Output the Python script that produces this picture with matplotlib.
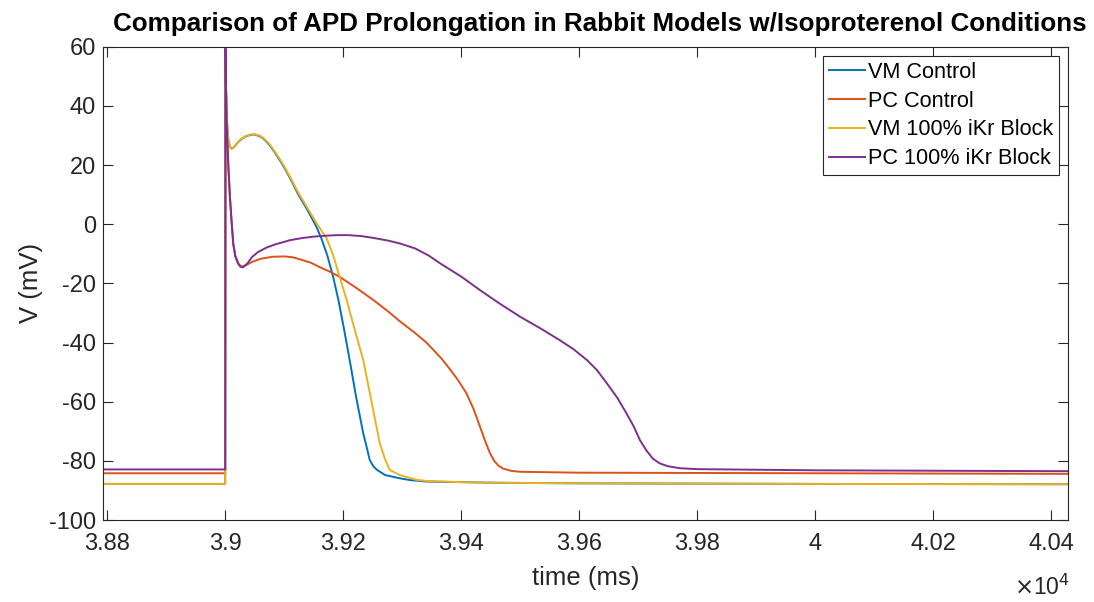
import matplotlib
matplotlib.use("Agg")
import matplotlib.pyplot as plt
from matplotlib.ticker import FixedLocator

plt.rcParams['font.family'] = ['Liberation Sans', 'DejaVu Sans']
plt.rcParams['axes.unicode_minus'] = False

# ---- data (time in ms, voltage in mV) ----
t_vm_ctrl = [38793, 39000, 39000.5, 39001.5, 39003, 39005, 39008, 39011, 39014, 39020, 39027,
             39035, 39043, 39050, 39058, 39065, 39075, 39084, 39092, 39100, 39112, 39124,
             39140, 39155, 39163, 39173, 39183, 39192, 39201, 39211, 39222, 39234, 39240,
             39245, 39251, 39257, 39271, 39296, 39313, 39341, 39400, 39454, 39600, 40000, 40429]
v_vm_ctrl = [-87.8, -87.8, 58.0, 45.0, 35.0, 29.0, 26.2, 25.5, 25.8, 27.3, 28.7,
             29.7, 30.2, 30.3, 29.8, 28.9, 26.8, 24.3, 21.8, 19.2, 14.8, 10.0,
             4.6, -1.0, -4.8, -10.5, -17.8, -25.7, -35.0, -45.9, -58.5, -70.7, -75.5,
             -79.7, -81.8, -83.0, -84.8, -85.9, -86.5, -87.0, -87.2, -87.4, -87.6, -87.8, -87.9]

t_pc_ctrl = [38793, 39000, 39000.5, 39001, 39002, 39003, 39005.5, 39008, 39011, 39013.6, 39017,
             39022, 39026, 39030, 39036, 39045, 39060, 39080, 39101, 39115, 39127, 39145,
             39160, 39177, 39194, 39222, 39251, 39275, 39296, 39320, 39340, 39353, 39367,
             39380, 39395, 39409, 39421, 39432, 39441, 39449, 39456, 39463, 39471, 39485,
             39500, 39600, 40000, 40429]
v_pc_ctrl = [-84.2, -84.2, 58.0, 50.0, 40.0, 31.8, 19.0, 9.3, 0.5, -6.5, -10.5,
             -13.2, -14.1, -14.3, -13.8, -12.8, -11.7, -11.0, -10.9, -11.2, -11.9, -13.0,
             -14.5, -16.0, -17.8, -21.5, -25.6, -29.3, -32.8, -36.5, -39.8, -42.5, -45.5,
             -48.8, -52.8, -57.2, -62.5, -68.5, -73.5, -77.5, -80.0, -81.6, -82.6, -83.4,
             -83.7, -84.0, -84.2, -84.4]

t_vm_block = [38793, 39000, 39000.5, 39001.5, 39003, 39005, 39008, 39011, 39014, 39020, 39027,
              39035, 39043, 39050, 39058, 39065, 39075, 39084, 39092, 39100, 39112, 39124,
              39140, 39155, 39172, 39183, 39194, 39206, 39220, 39234, 39248, 39262, 39271,
              39279, 39296, 39324, 39341, 39400, 39454, 39600, 40000, 40429]
v_vm_block = [-87.8, -87.8, 58.5, 45.5, 35.0, 29.0, 26.2, 25.5, 25.8, 27.4, 28.8,
              29.8, 30.3, 30.4, 30.0, 29.1, 27.1, 24.6, 22.2, 19.6, 15.2, 10.6,
              5.3, 0.3, -4.8, -10.5, -17.8, -25.7, -36.0, -45.9, -60.0, -74.0, -79.5,
              -83.1, -84.8, -86.4, -86.8, -87.2, -87.4, -87.6, -87.8, -87.9]

t_pc_block = [38793, 39000, 39000.5, 39001, 39002, 39003, 39005.5, 39008, 39011, 39013.6, 39017,
              39022, 39026, 39030, 39038, 39045, 39055, 39070, 39085, 39096, 39110, 39130,
              39150, 39169, 39190, 39208, 39230, 39250, 39275, 39296, 39322, 39345, 39364,
              39400, 39432, 39465, 39500, 39535, 39567, 39590, 39613, 39630, 39647, 39665,
              39680, 39692, 39703, 39714, 39725, 39737, 39750, 39771, 39800, 39850, 40000, 40429]
v_pc_block = [-82.9, -82.9, 59.5, 50.0, 40.0, 31.8, 19.0, 9.3, 0.5, -6.5, -10.8,
              -13.4, -14.4, -14.6, -13.2, -11.2, -9.5, -7.9, -6.8, -6.2, -5.4, -4.7,
              -4.2, -3.9, -3.7, -3.7, -4.0, -4.6, -5.5, -6.5, -8.2, -10.6, -13.2,
              -17.7, -22.3, -26.8, -31.3, -35.3, -39.2, -42.2, -45.9, -49.3, -53.8, -58.8,
              -63.9, -68.2, -73.0, -76.5, -79.3, -80.9, -81.8, -82.5, -82.8, -82.9, -83.2, -83.5]

series_labels = ['VM Control', 'PC Control', 'VM 100% iKr Block', 'PC 100% iKr Block']
series_t = [t_vm_ctrl, t_pc_ctrl, t_vm_block, t_pc_block]
series_v = [v_vm_ctrl, v_pc_ctrl, v_vm_block, v_pc_block]
colors = ['#0072BD', '#D95319', '#EDB120', '#7E2F8E']

x_ticks = [38800, 39000, 39200, 39400, 39600, 39800, 40000, 40200, 40400]
x_tick_labels = ['3.88', '3.9', '3.92', '3.94', '3.96', '3.98', '4', '4.02', '4.04']
y_ticks = [-100, -80, -60, -40, -20, 0, 20, 40, 60]

# ---- figure ----
fig = plt.figure(figsize=(10.94, 6.02), dpi=100)
ax = fig.add_axes([0.0942, 0.1362, 0.8823, 0.7862])

for t, v, c, lab in zip(series_t, series_v, colors, series_labels):
    ax.plot([x / 10000 for x in t], v, color=c, lw=1.4, label=lab)

ax.set_xlim(38793 / 10000, 40429 / 10000)
ax.set_ylim(-100, 60)
ax.xaxis.set_major_locator(FixedLocator([x / 10000 for x in x_ticks]))
ax.set_xticklabels(x_tick_labels)
ax.set_yticks(y_ticks)
ax.tick_params(direction='in', length=7, width=0.8, colors='#262626',
               labelsize=17, top=True, right=True)
ax.tick_params(axis='x', pad=9)
ax.tick_params(axis='y', pad=5)
for sp in ax.spines.values():
    sp.set_color('#262626')
    sp.set_linewidth(0.8)

ax.set_xlabel('time (ms)', fontsize=18.5, color='#262626')
ax.set_ylabel('V (mV)', fontsize=18.5, color='#262626')
ax.xaxis.set_label_coords(0.5, -0.097)
ax.yaxis.set_label_coords(-0.062, 0.5)
ax.set_title('Comparison of APD Prolongation in Rabbit Models w/Isoproterenol Conditions',
             fontsize=18.7, fontweight='bold', color='black', pad=11, x=0.515)

ax.text(1.002, -0.115, r'$\times$10$^4$', transform=ax.transAxes, ha='right', va='top',
        fontsize=16.5, color='#262626')

leg = ax.legend(loc='upper right', fontsize=15.6, frameon=True, fancybox=False,
                edgecolor='#262626', framealpha=1, borderaxespad=0.45,
                labelspacing=0.36, handlelength=1.66, handletextpad=0.15,
                borderpad=0.25)
leg.get_frame().set_linewidth(0.8)

fig.savefig('out.png', dpi=100)
